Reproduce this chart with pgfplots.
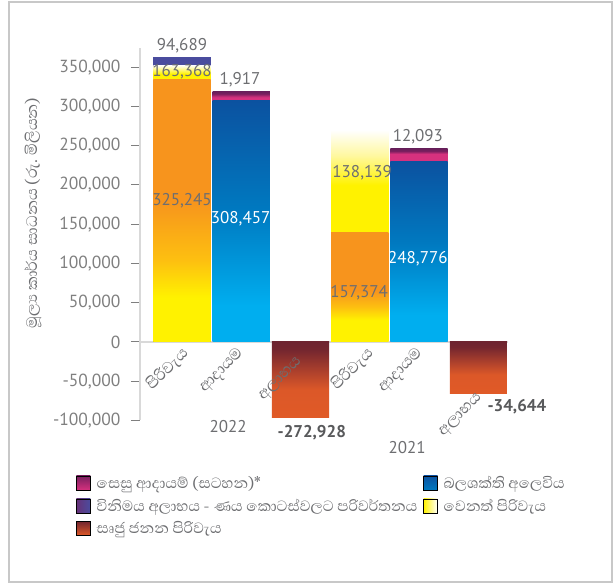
\documentclass[border=0pt]{standalone}
\usepackage{pgfplots}
\pgfplotsset{compat=1.18}
\usepackage{fontspec}
\setmainfont{PT Sans}
\newfontfamily\si[Script=Sinhala]{Abhaya Libre}

\definecolor{txtgray}{HTML}{6D6E71}
\definecolor{tickgray}{HTML}{7F7F7F}
\definecolor{axgray}{HTML}{D9D9D9}
\definecolor{zerogray}{HTML}{D9D9D9}
\definecolor{framegray}{HTML}{C8C8C8}
\definecolor{boldgray}{HTML}{58595B}
\definecolor{cyl}{HTML}{FFF200}
\definecolor{cyllight}{HTML}{FFFDE8}
\definecolor{cylpale}{HTML}{FFF8A0}
\definecolor{cor}{HTML}{F7941D}
\definecolor{cormid}{HTML}{FDC010}
\definecolor{cblbot}{HTML}{00AEEF}
\definecolor{cblmid}{HTML}{0079C0}
\definecolor{cbltop}{HTML}{0B52A0}
\definecolor{cpink}{HTML}{D6317E}
\definecolor{cplum}{HTML}{7A1F5F}
\definecolor{cplumtop}{HTML}{6B1E5B}
\definecolor{cpurp}{HTML}{4A4C9E}
\definecolor{clossbot}{HTML}{E05A27}
\definecolor{clossor}{HTML}{DC5828}
\definecolor{clossmid}{HTML}{B0422C}
\definecolor{clossdark}{HTML}{74262F}
\definecolor{closstop}{HTML}{6E2430}

% path bounding box maps to 25bp..75bp
\pgfdeclareverticalshading{orA}{100bp}{color(0bp)=(cyl); color(33.5bp)=(cyl); color(40.5bp)=(cormid); color(52bp)=(cor); color(100bp)=(cor)}
\pgfdeclareverticalshading{orB}{100bp}{color(0bp)=(cyl); color(35bp)=(cyl); color(41bp)=(cormid); color(48.5bp)=(cor); color(100bp)=(cor)}
\pgfdeclareverticalshading{blu}{100bp}{color(0bp)=(cblbot); color(32.5bp)=(cblbot); color(52.5bp)=(cblmid); color(75bp)=(cbltop); color(100bp)=(cbltop)}
\pgfdeclareverticalshading{magA}{100bp}{color(0bp)=(cpink); color(73.9bp)=(cpink); color(74.55bp)=(cplum); color(75bp)=(cplumtop); color(100bp)=(cplumtop)}
\pgfdeclareverticalshading{magB}{100bp}{color(0bp)=(cpink); color(73.7bp)=(cpink); color(74.45bp)=(cplum); color(75bp)=(cplumtop); color(100bp)=(cplumtop)}
\pgfdeclareverticalshading{yelA}{100bp}{color(0bp)=(cyl); color(73.55bp)=(cyl); color(75bp)=(cyllight); color(100bp)=(cyllight)}
\pgfdeclareverticalshading{yelB}{100bp}{color(0bp)=(cyl); color(62bp)=(cyl); color(69bp)=(cylpale); color(75bp)=(white); color(100bp)=(white)}
\pgfdeclareverticalshading{loss}{100bp}{color(0bp)=(clossbot); color(25bp)=(clossbot); color(43.5bp)=(clossor); color(55bp)=(clossmid); color(70bp)=(clossdark); color(75bp)=(closstop); color(100bp)=(closstop)}

\pgfplotsset{
  barst/.style={ybar, bar width=0.965, bar shift=0pt, draw=none, forget plot},
}
\tikzset{
  valst/.style={font=\fontsize{17}{17}\selectfont, text=txtgray, inner sep=0pt},
  catst/.style={font=\si\fontsize{20}{20}\selectfont, text=txtgray, rotate=45, inner sep=0pt},
}

\begin{document}
\begin{tikzpicture}
\useasboundingbox (0,0) rectangle (614pt,584pt);
\begin{axis}[
  at={(140pt,163.5pt)}, anchor=south west,
  scale only axis, width=368pt, height=372.9pt,
  xmin=-0.708, xmax=5.5, ymin=-100000, ymax=375000,
  axis y line=left, axis x line=middle,
  axis line style={-},
  x axis line style={draw=zerogray, line width=1.2pt},
  y axis line style={draw=axgray, line width=1.5pt},
  xtick=\empty,
  ytick={-100000,-50000,...,350000},
  tick align=outside, major tick length=9pt,
  ytick style={draw=tickgray, line width=1pt},
  scaled y ticks=false,
  hide obscured y ticks=false,
  /pgf/number format/fixed,
  /pgf/number format/precision=0,
  /pgf/number format/assume math mode=true,
  /pgf/number format/1000 sep={,},
  yticklabel style={font=\fontsize{17.5}{17.5}\selectfont, text=tickgray, xshift=-7pt},
  clip=false,
  ylabel={\si\fontsize{19.5}{19.5}\selectfont මූල්‍ය කාර්ය සාධනය (රු. මිලියන)},
  ylabel style={at={(axis description cs:-0.291,0.556)}, anchor=center, text=txtgray},
  legend columns=2,
  legend cell align=left,
  legend style={draw=none, fill=none, at={(axis description cs:-0.174,-0.143)}, anchor=north west,
    font=\si\fontsize{19}{19}\selectfont, text=txtgray, inner sep=0pt,
    row sep=5pt, column sep=4pt},
]
% upper stacked segments first (covered below by the lower segments)
\addplot[barst, fill=cpurp] coordinates {(0,363400)};
\addplot[barst, shading=yelA] coordinates {(0,351600)};
\addplot[barst, shading=magA] coordinates {(1,318900)};
\addplot[barst, shading=yelB] coordinates {(3,270000)};
\addplot[barst, shading=magB] coordinates {(4,245900)};
% lower segments
\addplot[barst, shading=orA] coordinates {(0,334000)};
\addplot[barst, shading=blu] coordinates {(1,307000)};
\addplot[barst, shading=orB] coordinates {(3,139200)};
\addplot[barst, shading=blu] coordinates {(4,229700)};
% losses
\addplot[barst, shading=loss] coordinates {(2,-96400)};
\addplot[barst, shading=loss] coordinates {(5,-65900)};

% value labels
\node[valst] at (axis cs:0,378000) {94,689};
\node[valst] at (axis cs:0,344000) {163,368};
\node[valst] at (axis cs:0.98,334000) {1,917};
\node[valst] at (axis cs:0,179600) {325,245};
\node[valst, text=white] at (axis cs:0.99,156700) {308,457};
\node[valst] at (axis cs:3.04,215300) {138,139};
\node[valst] at (axis cs:3.98,261000) {12,093};
\node[valst] at (axis cs:2.99,62400) {157,374};
\node[valst, text=white] at (axis cs:3.98,105700) {248,776};
\node[valst, font=\bfseries\fontsize{17}{17}\selectfont, text=boldgray] at (axis cs:2.19,-115900) {-272,928};
\node[valst, font=\bfseries\fontsize{17}{17}\selectfont, text=boldgray] at (axis cs:5.65,-82800) {-34,644};
% year labels
\node[valst] at (axis cs:0.78,-108300) {2022};
\node[valst] at (axis cs:3.8,-135000) {2021};
% category labels
\node[catst] at (axis cs:-0.25,-34400) {පිරිවැය};
\node[catst] at (axis cs:0.67,-36900) {ආදායම};
\node[catst] at (axis cs:1.67,-48400) {අලාභය};
\node[catst] at (axis cs:2.87,-34400) {පිරිවැය};
\node[catst] at (axis cs:3.69,-36900) {ආදායම};
\node[catst] at (axis cs:4.71,-94300) {අලාභය};

% legend
\addlegendimage{legend image code/.code={\shade[top color=cplum, bottom color=cpink] (0pt,-7pt) rectangle (14pt,7pt);}}
\addlegendentry{සෙසු ආදායම් (සටහන)*}
\addlegendimage{legend image code/.code={\shade[top color=cbltop, bottom color=cblmid] (0pt,-7pt) rectangle (14pt,7pt);}}
\addlegendentry{බලශක්ති අලෙවිය}
\addlegendimage{legend image code/.code={\shade[left color=cplum!60!cpurp, right color=cpurp] (0pt,-7pt) rectangle (14pt,7pt);}}
\addlegendentry{විනිමය අලාභය - ණය කොටස්වලට පරිවර්තනය}
\addlegendimage{legend image code/.code={\shade[left color=cyl, right color=white] (0pt,-7pt) rectangle (14pt,7pt);}}
\addlegendentry{වෙනත් පිරිවැය}
\addlegendimage{legend image code/.code={\shade[top color=clossdark, bottom color=clossbot] (0pt,-7pt) rectangle (14pt,7pt);}}
\addlegendentry{සෘජු ජනන පිරිවැය}
\end{axis}
\draw[framegray, line width=2.5pt] (9pt,2pt) rectangle (612pt,582pt);
\end{tikzpicture}
\end{document}
